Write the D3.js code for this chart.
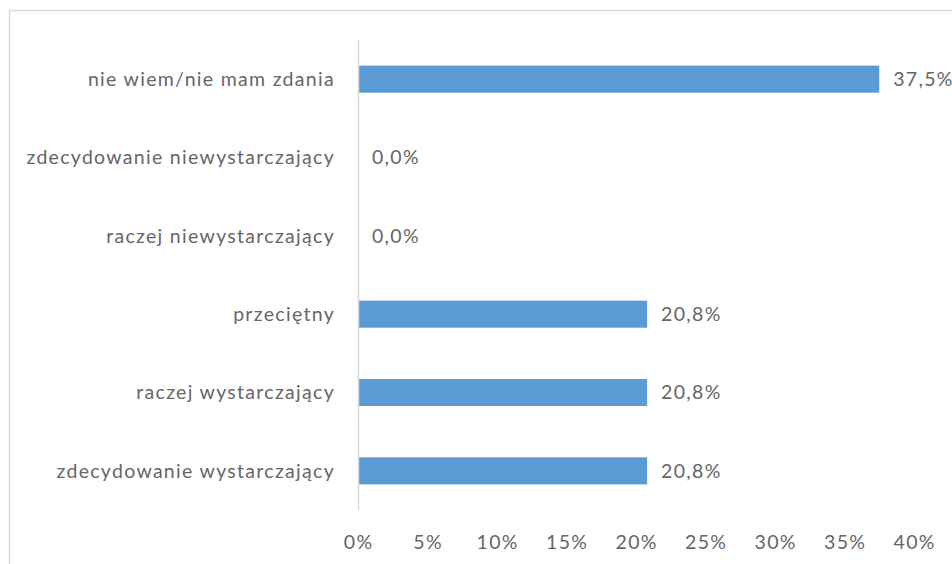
<!DOCTYPE html>
<html lang="pl">
<head>
  <meta charset="UTF-8">
  <title>Ocena</title>
  <style>
    body { margin: 0; background: #fff; }
    text { font-family: Lato, "Open Sans", sans-serif; fill: #666; letter-spacing: 1.3px; }
  </style>
</head>
<body>
  <script src="https://d3js.org/d3.v7.min.js"></script>
  <script>
    // Categories from top to bottom, and their shares in percent
    let categories = [
      "nie wiem/nie mam zdania",
      "zdecydowanie niewystarczający",
      "raczej niewystarczający",
      "przeciętny",
      "raczej wystarczający",
      "zdecydowanie wystarczający"
    ];
    let values = [37.5, 0.0, 0.0, 20.8, 20.8, 20.8];
    let tickValues = [0, 5, 10, 15, 20, 25, 30, 35, 40];

    let svgWidth = 952;
    let svgHeight = 564;

    let svg = d3.select("body")
      .append("svg")
      .attr("width", svgWidth)
      .attr("height", svgHeight);

    // Chart frame, cut off on the right and bottom like the original
    svg.append("rect")
      .attr("x", 9.5)
      .attr("y", 10.5)
      .attr("width", 1000)
      .attr("height", 600)
      .attr("fill", "none")
      .attr("stroke", "#d9d9d9")
      .attr("stroke-width", 1.5);

    let x = d3.scaleLinear().domain([0, 40]).range([358, 914]);
    let y = d3.scaleBand()
      .domain(categories)
      .range([40, 510])
      .paddingInner(0.655)
      .paddingOuter(0.3275);

    let fontSize = "19.5px";

    // Bars
    svg.selectAll(".bar")
      .data(categories)
      .enter()
      .append("rect")
      .attr("class", "bar")
      .attr("x", x(0))
      .attr("y", d => y(d))
      .attr("width", (d, i) => x(values[i]) - x(0))
      .attr("height", y.bandwidth())
      .attr("fill", "#5b9bd5");

    // Vertical axis line
    svg.append("line")
      .attr("x1", x(0) + 0.5)
      .attr("x2", x(0) + 0.5)
      .attr("y1", 40)
      .attr("y2", 510)
      .attr("stroke", "#d9d9d9")
      .attr("stroke-width", 1.5);

    // Category labels
    svg.selectAll(".cat")
      .data(categories)
      .enter()
      .append("text")
      .attr("class", "cat")
      .attr("x", 335)
      .attr("y", d => y(d) + y.bandwidth() / 2)
      .attr("dy", "0.35em")
      .attr("text-anchor", "end")
      .style("font-size", fontSize)
      .text(d => d);

    // Value labels
    svg.selectAll(".val")
      .data(categories)
      .enter()
      .append("text")
      .attr("class", "val")
      .attr("x", (d, i) => x(values[i]) + 14)
      .attr("y", d => y(d) + y.bandwidth() / 2)
      .attr("dy", "0.35em")
      .style("font-size", fontSize)
      .text((d, i) => values[i].toFixed(1).replace(".", ",") + "%");

    // Bottom tick labels
    svg.selectAll(".tick-label")
      .data(tickValues)
      .enter()
      .append("text")
      .attr("class", "tick-label")
      .attr("x", d => x(d) + 0.6)
      .attr("y", 542)
      .attr("dy", "0.35em")
      .attr("text-anchor", "middle")
      .style("font-size", fontSize)
      .text(d => d + "%");
  </script>
</body>
</html>
